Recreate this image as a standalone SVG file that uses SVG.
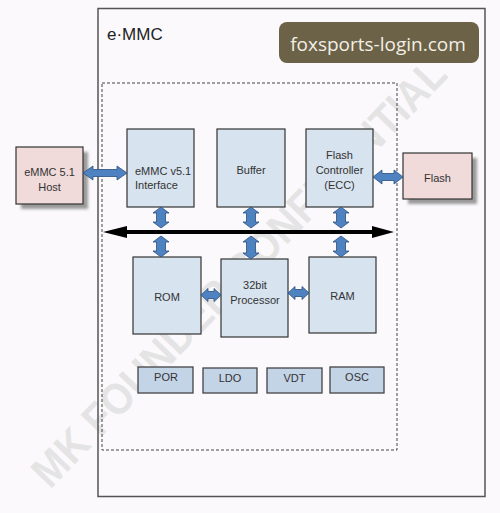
<svg xmlns="http://www.w3.org/2000/svg" width="500" height="513" viewBox="0 0 500 513">
  <defs>
    <filter id="sh" x="-20%" y="-20%" width="150%" height="150%">
      <feGaussianBlur stdDeviation="1.5"/>
    </filter>
  </defs>
  <style>
    text { font-family: "Liberation Sans", Arial, sans-serif; fill: #333; }
    .lbl { font-size: 11px; text-anchor: middle; }
    .blue { fill: #d7e3ef; stroke: #333; stroke-width: 1.2; }
    .pink { fill: #f0dbda; stroke: #333; stroke-width: 1.2; }
    .small { fill: #c4d4e7; stroke: #444; stroke-width: 1.3; }
    .shadow { fill: #9a9a9a; filter: url(#sh); }
    .barrow { fill: #4f82c0; stroke: #2b4f7e; stroke-width: 0.8; }
    .bus { fill: #000; }
  </style>
  <rect width="500" height="513" fill="#fbf9fc"/>

  <!-- watermark -->
  <text x="0" y="0" transform="translate(50,490) rotate(-46)" font-size="44" font-weight="bold" textLength="575" lengthAdjust="spacingAndGlyphs" style="fill:#d6d6d6;fill-opacity:0.6;font-family:'Liberation Sans',Arial,sans-serif">MK FOUNDER CONFIDENTIAL</text>

  <!-- outer e·MMC box -->
  <g id="emmc">
    <rect x="98" y="8.5" width="387" height="488" fill="none" stroke="#555" stroke-width="1.5"/>
    <text x="107" y="40" font-size="17" style="fill:#222">e·MMC</text>
    <rect x="102" y="83" width="295" height="367" fill="none" stroke="#444" stroke-width="1" stroke-dasharray="3,2"/>
  </g>

  <g id="site-label">
    <rect x="279" y="22" width="200" height="41" rx="8" fill="#6b6247"/>
    <text x="378" y="51" font-size="19" text-anchor="middle" style="fill:#f2efe6;font-family:'Open Sans','Noto Sans',sans-serif">foxsports-login.com</text>
  </g>

  <g id="host">
    <rect class="shadow" x="21" y="152" width="67" height="57"/>
    <rect class="pink" x="16" y="147" width="67" height="57"/>
    <text class="lbl" x="49.5" y="176">eMMC 5.1</text>
    <text class="lbl" x="49.5" y="191">Host</text>
  </g>

  <g id="flash">
    <rect class="shadow" x="408" y="158" width="69" height="46"/>
    <rect class="pink" x="403" y="153" width="69" height="46"/>
    <text class="lbl" x="437.5" y="182">Flash</text>
  </g>

  <g id="interface">
    <rect class="blue" x="127" y="129" width="67" height="78"/>
    <text x="135" y="175" font-size="11">eMMC v5.1</text>
    <text x="135" y="189" font-size="11">Interface</text>
  </g>

  <g id="buffer">
    <rect class="blue" x="217" y="129" width="68" height="78"/>
    <text class="lbl" x="251" y="174">Buffer</text>
  </g>

  <g id="flash-controller">
    <rect class="blue" x="306" y="129" width="67" height="78"/>
    <text class="lbl" x="339.5" y="159">Flash</text>
    <text class="lbl" x="339.5" y="174">Controller</text>
    <text class="lbl" x="339.5" y="189">(ECC)</text>
  </g>

  <g id="rom">
    <rect class="blue" x="133" y="257" width="68" height="77"/>
    <text class="lbl" x="167" y="301">ROM</text>
  </g>

  <g id="processor">
    <rect class="blue" x="221" y="259" width="67" height="78"/>
    <text class="lbl" x="255" y="289">32bit</text>
    <text class="lbl" x="255" y="304">Processor</text>
  </g>

  <g id="ram">
    <rect class="blue" x="309" y="257" width="67" height="76"/>
    <text class="lbl" x="342.5" y="300">RAM</text>
  </g>

  <g id="por">
    <rect class="small" x="138" y="367" width="55" height="26"/>
    <text class="lbl" x="166" y="381">POR</text>
  </g>
  <g id="ldo">
    <rect class="small" x="203" y="368" width="54" height="25"/>
    <text class="lbl" x="230" y="382">LDO</text>
  </g>
  <g id="vdt">
    <rect class="small" x="267" y="368" width="55" height="25"/>
    <text class="lbl" x="294.5" y="382">VDT</text>
  </g>
  <g id="osc">
    <rect class="small" x="330" y="367" width="54" height="26"/>
    <text class="lbl" x="357" y="381">OSC</text>
  </g>

  <g id="connectors">
    <!-- internal bus -->
    <path class="bus" d="M103,232 L127,226 L127,230 L372,230 L372,226 L394,232 L372,238 L372,234 L127,234 L127,238 Z"/>
    <!-- host <-> interface -->
    <path class="barrow" d="M83,173 L93,166 L93,169.5 L117,169.5 L117,166 L127,173 L117,180 L117,176.5 L93,176.5 L93,180 Z"/>
    <!-- flash controller <-> flash -->
    <path class="barrow" d="M373,177 L382,170 L382,173.5 L394,173.5 L394,170 L403,177 L394,184 L394,180.5 L382,180.5 L382,184 Z"/>
    <!-- rom <-> processor -->
    <path class="barrow" d="M201,295 L208,288.5 L208,291.5 L214,291.5 L214,288.5 L221,295 L214,301.5 L214,298.5 L208,298.5 L208,301.5 Z"/>
    <!-- processor <-> ram -->
    <path class="barrow" d="M288,293 L295,286.5 L295,289.5 L302,289.5 L302,286.5 L309,293 L302,299.5 L302,296.5 L295,296.5 L295,299.5 Z"/>
    <!-- vertical: interface -->
    <path class="barrow" d="M161,207 L169,213 L165.5,213 L165.5,222 L169,222 L161,228 L153,222 L156.5,222 L156.5,213 L153,213 Z"/>
    <path class="barrow" d="M161,236 L169,242 L165.5,242 L165.5,251 L169,251 L161,257 L153,251 L156.5,251 L156.5,242 L153,242 Z"/>
    <!-- vertical: buffer -->
    <path class="barrow" d="M251,207 L259,213 L255.5,213 L255.5,222 L259,222 L251,228 L243,222 L246.5,222 L246.5,213 L243,213 Z"/>
    <path class="barrow" d="M251,236 L259,242 L255.5,242 L255.5,253 L259,253 L251,259 L243,253 L246.5,253 L246.5,242 L243,242 Z"/>
    <!-- vertical: flash controller -->
    <path class="barrow" d="M341,207 L349,213 L345.5,213 L345.5,222 L349,222 L341,228 L333,222 L336.5,222 L336.5,213 L333,213 Z"/>
    <path class="barrow" d="M341,236 L349,242 L345.5,242 L345.5,251 L349,251 L341,257 L333,251 L336.5,251 L336.5,242 L333,242 Z"/>
  </g>
</svg>
